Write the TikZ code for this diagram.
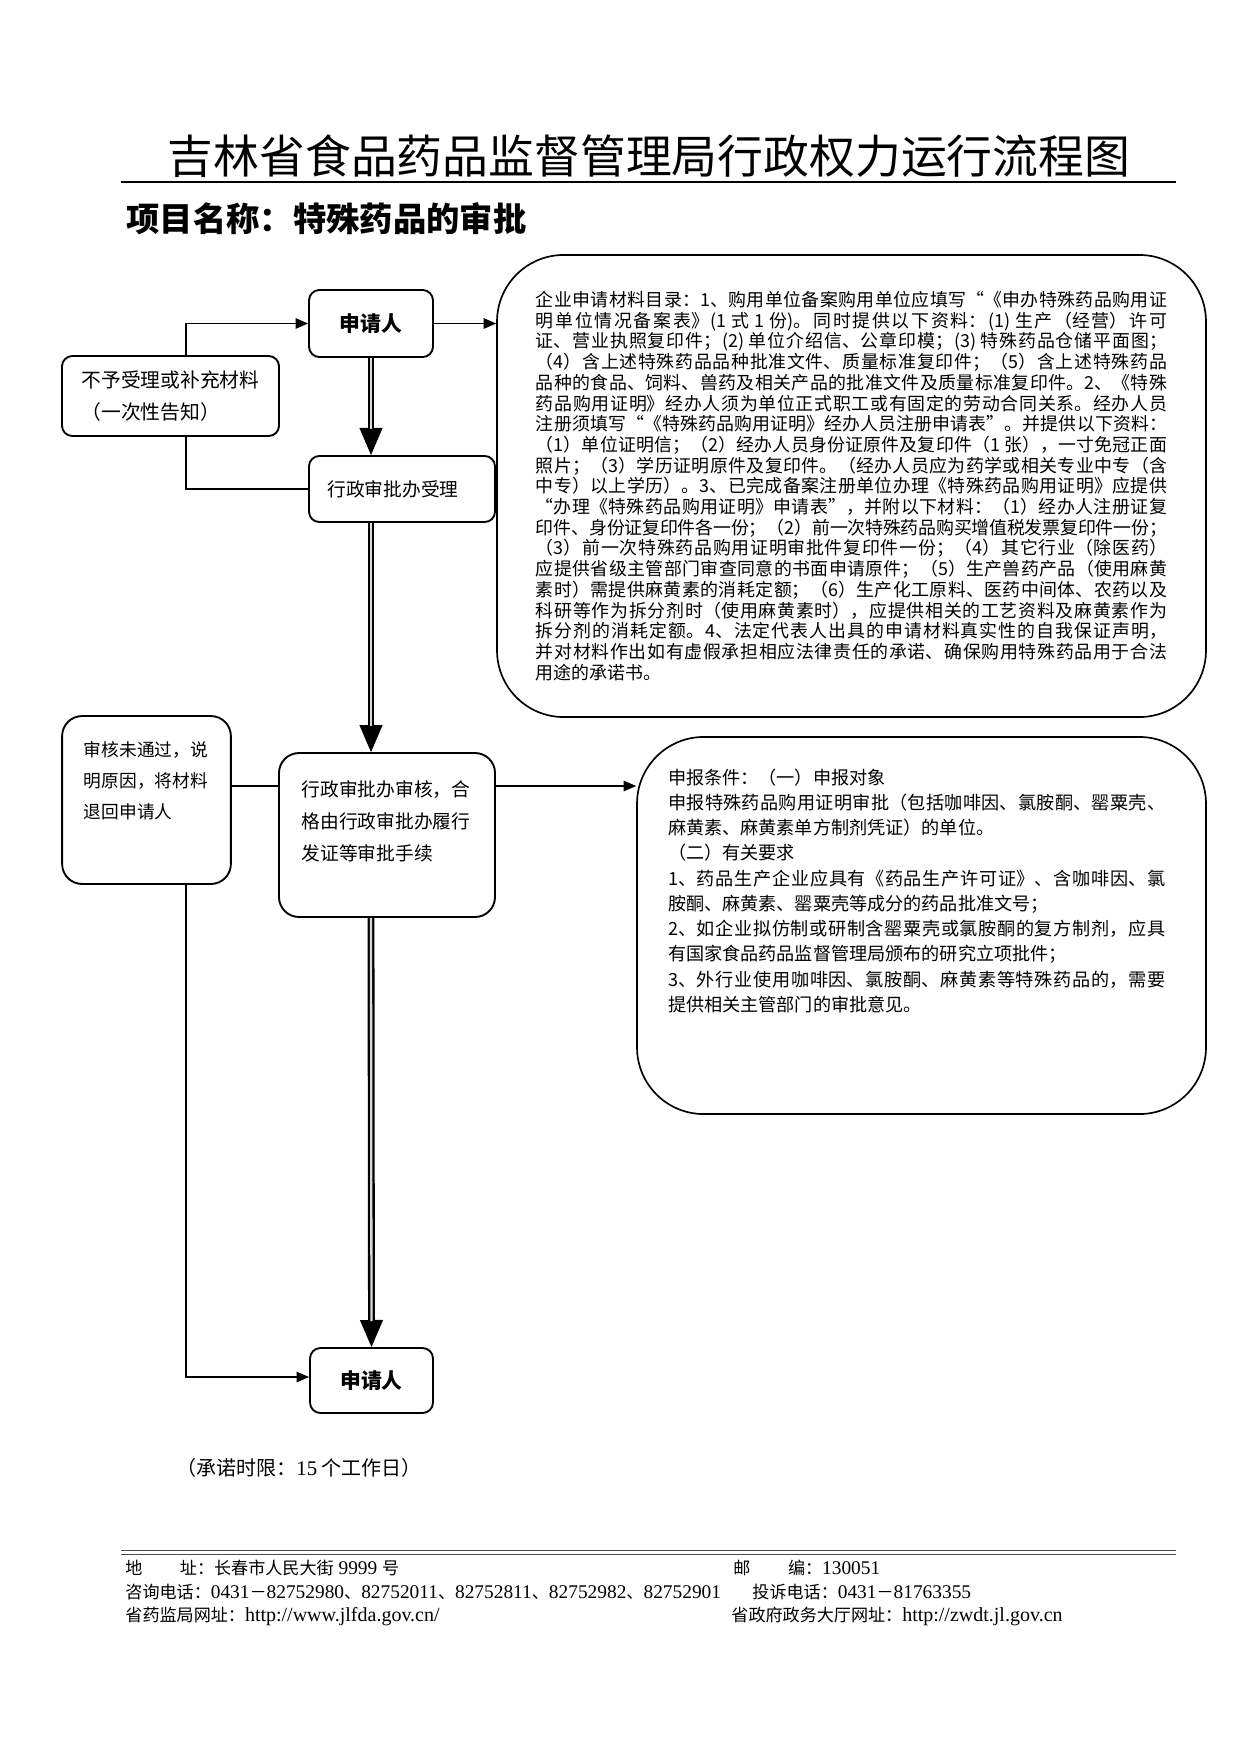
\documentclass[tikz,border=0pt]{standalone}
\usepackage{fontspec}
\setmainfont{Noto Sans CJK SC}
\newfontfamily\lat{Liberation Serif}
\usetikzlibrary{arrows.meta,calc}
\XeTeXlinebreaklocale "zh"
\XeTeXlinebreakskip=0pt plus 1.5pt minus 0.3pt
\tolerance=9999
\hbadness=10000
\hfuzz=6pt
\newcommand\fs[2]{\fontsize{#1}{#2}\selectfont}
\newcommand\la[1]{{\lat\fontsize{9.3pt}{10pt}\selectfont #1}}
\newcommand\lu[1]{{\lat\fontsize{9.6pt}{10pt}\selectfont #1}}
\begin{document}
\begin{tikzpicture}[x=0.48pt,y=-0.48pt,
  sbox/.style={draw, line width=0.9pt, rounded corners=5pt, inner sep=0pt, align=center},
  tbox/.style={draw, line width=0.9pt, rounded corners=9.6pt},
  bbox/.style={draw, line width=0.8pt, rounded corners=32pt},
  ln/.style={line width=0.7pt},
  arr/.style={ln, -{Triangle[length=6pt,width=5pt]}},
  bigtip/.style={line width=0.6pt, -{Triangle[length=13pt,width=11pt]}},
  bigshaft/.style={line width=1.1pt, double=gray!30, double distance=1.1pt, shorten >=12.5pt},
  txt/.style={inner sep=0pt},
  ft/.style={txt, anchor=west, font=\fs{8.2pt}{10pt}}]
\fill[white] (0,0) rectangle (1240,1754);
\useasboundingbox (0,0) rectangle (1240,1754);

% title
\node[txt, font=\fs{22pt}{26pt}] (title) at (649,156) {吉林省食品药品监督管理局行政权力运行流程图};
\coordinate (rl) at (121,182); \coordinate (rr) at (1176,182);
\draw[line width=0.9pt] (rl) -- (rr);
\node[txt, anchor=west, font=\fs{16pt}{19pt}\bfseries] (sub) at (126,219) {项目名称：特殊药品的审批};

% flow boxes
\node[sbox, minimum width=59.5pt, minimum height=32.2pt, font=\fs{10pt}{12pt}\bfseries] (app1) at (371,323.5) {申请人};
\node[sbox, minimum width=104.2pt, minimum height=38.4pt, font=\fs{9.5pt}{15.5pt}, align=left] (rej) at (170.5,396) {不予受理或补充材料\\（一次性告知）};
\node[sbox, minimum width=89.3pt, minimum height=31.7pt, font=\fs{9pt}{11pt}] (acc) at (402,489) {行政审批办受理\hspace{8.6pt}};
\node[tbox, inner xsep=10.85pt, inner ysep=13.3pt, font=\fs{9pt}{15.3pt}] (rev) at (387,835) {\parbox[c][52.1pt][t]{82pt}{行政审批办审核，合\\格由行政审批办履行\\发证等审批手续}};
\node[tbox, inner xsep=10.5pt, inner ysep=12pt, font=\fs{8.5pt}{14.9pt}] (unp) at (146.5,800) {\parbox[c][56.6pt][t]{60pt}{审核未通过，说\\明原因，将材料\\退回申请人}};
\node[sbox, minimum width=59pt, minimum height=31.2pt, font=\fs{10pt}{12pt}\bfseries] (app2) at (371.5,1380.5) {申请人};

% big text boxes
\node[bbox, minimum width=340.3pt, minimum height=221.8pt, text width=302.9pt, align=justify, font=\fs{8.6pt}{9.94pt}] (mat) at (851.5,486) {企业申请材料目录：1、购用单位备案购用单位应填写“《申办特殊药品购用证\linebreak
明单位情况备案表》(1 式 1 份)。同时提供以下资料：(1) 生产（经营）许可\linebreak
证、营业执照复印件；(2) 单位介绍信、公章印模；(3) 特殊药品仓储平面图；\linebreak
（4）含上述特殊药品品种批准文件、质量标准复印件；（5）含上述特殊药品\linebreak
品种的食品、饲料、兽药及相关产品的批准文件及质量标准复印件。2、《特殊\linebreak
药品购用证明》经办人须为单位正式职工或有固定的劳动合同关系。经办人员\linebreak
注册须填写“《特殊药品购用证明》经办人员注册申请表”。并提供以下资料：\linebreak
（1）单位证明信；（2）经办人员身份证原件及复印件（1 张），一寸免冠正面\linebreak
照片；（3）学历证明原件及复印件。（经办人员应为药学或相关专业中专（含\linebreak
中专）以上学历）。3、已完成备案注册单位办理《特殊药品购用证明》应提供\linebreak
“办理《特殊药品购用证明》申请表”，并附以下材料：（1）经办人注册证复\linebreak
印件、身份证复印件各一份；（2）前一次特殊药品购买增值税发票复印件一份；\linebreak
（3）前一次特殊药品购用证明审批件复印件一份；（4）其它行业（除医药）\linebreak
应提供省级主管部门审查同意的书面申请原件；（5）生产兽药产品（使用麻黄\linebreak
素时）需提供麻黄素的消耗定额；（6）生产化工原料、医药中间体、农药以及\linebreak
科研等作为拆分剂时（使用麻黄素时），应提供相关的工艺资料及麻黄素作为\linebreak
拆分剂的消耗定额。4、法定代表人出具的申请材料真实性的自我保证声明，\linebreak
并对材料作出如有虚假承担相应法律责任的承诺、确保购用特殊药品用于合法\linebreak
用途的承诺书。};

\node[bbox, inner xsep=14.9pt, inner ysep=15.3pt, font=\fs{8.7pt}{12.1pt}] (cond) at (921.5,925.5) {\parbox[c][150.4pt][t]{243.3pt}{\rightskip=4.7pt
申报条件：（一）申报对象\\
申报特殊药品购用证明审批（包括咖啡因、氯胺酮、罂粟壳、\linebreak
麻黄素、麻黄素单方制剂凭证）的单位。\\
（二）有关要求\\
1、药品生产企业应具有《药品生产许可证》、含咖啡因、氯\linebreak
胺酮、麻黄素、罂粟壳等成分的药品批准文号；\\
2、如企业拟仿制或研制含罂粟壳或氯胺酮的复方制剂，应具\linebreak
有国家食品药品监督管理局颁布的研究立项批件；\\
3、外行业使用咖啡因、氯胺酮、麻黄素等特殊药品的，需要\linebreak
提供相关主管部门的审批意见。}};

% helper coordinates
\coordinate (lane) at (186,300);
\coordinate (row) at (300,786);
\coordinate (row2) at (300,1377);

% thin connectors
\draw[arr] (rej.north -| lane) |- (app1.west);
\draw[ln] (rej.south -| lane) |- (acc.west);
\draw[arr] (app1.east) -- (app1.east -| mat.west);
\draw[ln] (unp.east |- row) -- (rev.west |- row);
\draw[arr] (rev.east |- row) -- (cond.west |- row);
\draw[arr] (unp.south -| lane) |- (app2.west |- row2);

% thick main arrows
\draw[bigtip] (app1.south) -- (app1.south |- acc.north);
\draw[bigshaft] (app1.south) -- (app1.south |- acc.north);
\draw[bigtip] (app1.south |- acc.south) -- (app1.south |- rev.north);
\draw[bigshaft] (app1.south |- acc.south) -- (app1.south |- rev.north);
\draw[bigtip] (app1.south |- rev.south) -- (app2.north);
\draw[bigshaft] (app1.south |- rev.south) -- (app2.north);

% time limit
\node[txt, anchor=west, font=\fs{9.6pt}{11pt}] (limit) at (176,1468) {（承诺时限：{\lat\fontsize{10pt}{11pt}\selectfont 15} 个工作日）};

% footer
\coordinate (fl1) at (121,1550); \coordinate (fr1) at (1176,1550);
\coordinate (fl2) at (121,1554); \coordinate (fr2) at (1176,1554);
\draw[gray!60!black, line width=0.5pt] (fl1) -- (fr1);
\draw[gray!60!black, line width=0.5pt] (fl2) -- (fr2);
\node[ft] (fa) at (125,1568) {地\hspace{18pt}址：长春市人民大街\la{\ 9999 }号};
\node[ft] (fb) at (733,1568) {邮\hspace{18pt}编：\la{130051}};
\node[ft] (fc) at (125,1592) {咨询电话：\la{0431}－\la{82752980}、\la{82752011}、\la{82752811}、\la{82752982}、\la{82752901}};
\node[ft] (fd) at (752,1592) {投诉电话：\la{0431}－\la{81763355}};
\node[ft] (fe) at (125,1616) {省药监局网址：\lu{http://www.jlfda.gov.cn/}};
\node[ft] (ff) at (731,1616) {省政府政务大厅网址：\lu{http://zwdt.jl.gov.cn}};
\end{tikzpicture}
\end{document}
